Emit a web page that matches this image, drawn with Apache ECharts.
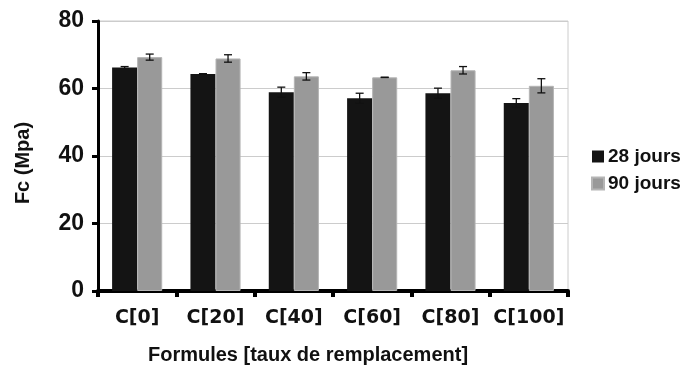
<!DOCTYPE html>
<html><head><meta charset="utf-8">
<script src="https://cdn.jsdelivr.net/npm/echarts@6/dist/echarts.min.js"></script>
<style>html,body{margin:0;padding:0;background:#fff}#c{width:684px;height:370px}</style>
</head><body><div id="c"></div>
<script>
const categories = ['C[0]','C[20]','C[40]','C[60]','C[80]','C[100]'];
const values28 = [66.2, 64.3, 58.9, 57.1, 58.6, 55.7];
const err28    = [0.3, 0.1, 1.5, 1.5, 1.5, 1.3];
const values90 = [69.3, 68.9, 63.6, 63.3, 65.4, 60.8];
const err90    = [0.9, 1.1, 1.1, 0.05, 1.1, 2.1];
const seriesNames = ['28 jours','90 jours'];
const yTicks = [0, 20, 40, 60, 80];

const FONT = '"Liberation Sans", Arial, sans-serif';
const WIDE = '"DejaVu Sans", sans-serif';
const chart = echarts.init(document.getElementById('c'));

function errSeries(vals, errs, side) {
  return {
    type: 'custom',
    z: 10,
    silent: true,
    data: vals.map((v, i) => [i, v - errs[i], v + errs[i]]),
    renderItem: function (params, api) {
      const i = api.value(0);
      const band = api.size([1, 0])[0];
      const bw = band * 0.32;
      const base = api.coord([i, api.value(1)]);
      const top = api.coord([i, api.value(2)]);
      const x = base[0] + side * bw / 2;
      const cap = 4;
      const style = { stroke: '#111', lineWidth: 1.3 };
      return {
        type: 'group',
        children: [
          { type: 'line', shape: { x1: x, y1: base[1], x2: x, y2: top[1] }, style: style },
          { type: 'line', shape: { x1: x - cap, y1: base[1], x2: x + cap, y2: base[1] }, style: style },
          { type: 'line', shape: { x1: x - cap, y1: top[1], x2: x + cap, y2: top[1] }, style: style }
        ]
      };
    }
  };
}

chart.setOption({
  animation: false,
  grid: { left: 98, right: 116, top: 21, bottom: 78, show: true, borderColor: '#cccccc', borderWidth: 1 },
  legend: {
    orient: 'vertical', left: 586, top: 142,
    itemWidth: 12, itemHeight: 12, itemGap: 8,
    icon: 'rect',
    textStyle: { fontFamily: FONT, fontWeight: 'bold', fontSize: 19, color: '#111', padding: [0, 0, 0, -1] },
    data: seriesNames
  },
  xAxis: {
    type: 'category',
    data: categories,
    boundaryGap: true,
    axisLine: { lineStyle: { color: '#000', width: 4 } },
    axisTick: { show: true, interval: 0, length: 6, lineStyle: { color: '#000', width: 4 } },
    axisLabel: { interval: 0, hideOverlap: false, fontFamily: WIDE, fontWeight: 'bold', fontSize: 19, color: '#111', margin: 18 },
    name: 'Formules [taux de remplacement]',
    nameLocation: 'middle', nameGap: 54,
    nameTextStyle: { fontFamily: FONT, fontWeight: 'bold', fontSize: 20, color: '#111', padding: [0, 50, 0, 0] }
  },
  yAxis: {
    type: 'value', min: yTicks[0], max: yTicks[yTicks.length - 1], interval: 20,
    axisLine: { show: true, lineStyle: { color: '#000', width: 3 } },
    axisTick: { show: true, length: 6, lineStyle: { color: '#000', width: 3 } },
    axisLabel: { fontFamily: FONT, fontWeight: 'bold', fontSize: 23, color: '#111', margin: 14 },
    splitLine: { lineStyle: { color: '#cccccc', width: 1 } },
    name: 'Fc (Mpa)',
    nameLocation: 'middle', nameGap: 65, nameRotate: 90,
    nameTextStyle: { fontFamily: FONT, fontWeight: 'bold', fontSize: 20, color: '#111', padding: [0, 14, 0, 0] }
  },
  series: [
    { name: seriesNames[0], type: 'bar', data: values28, barWidth: '32%', barGap: '0%',
      itemStyle: { color: '#141414' } },
    { name: seriesNames[1], type: 'bar', data: values90, barWidth: '32%', barGap: '0%',
      itemStyle: { color: '#999999', borderColor: '#b5b5b5', borderWidth: 1 } },
    errSeries(values28, err28, -1),
    errSeries(values90, err90, 1)
  ]
});
</script></body></html>
